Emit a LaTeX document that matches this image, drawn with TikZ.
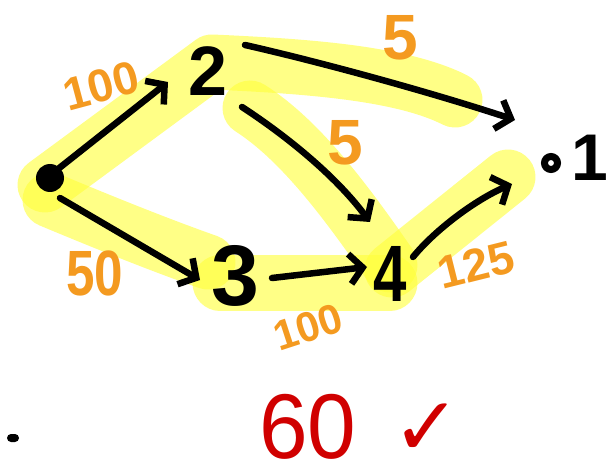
\documentclass[tikz,border=0pt]{standalone}
\usepackage{fontspec}
\setmainfont{Liberation Sans}
\newfontfamily\symfont{DejaVu Sans}
\usetikzlibrary{arrows.meta}
\definecolor{hl}{RGB}{255,255,60}
\definecolor{lbl}{RGB}{244,154,32}
\definecolor{chk}{RGB}{208,0,0}
\tikzset{
 hlband/.style={draw=hl, line width=55pt, line cap=round, line join=round, opacity=0.62},
 edge/.style={line width=6.5pt, line cap=round, line join=round, -{Straight Barb[length=13pt,width=30pt,line width=6.5pt]}},
 vert/.style={font=\bfseries\fontsize{70}{70}\selectfont, inner sep=2pt},
 wlbl/.style={text=lbl, font=\bfseries\fontsize{46}{46}\selectfont, inner sep=0pt},
 wbig/.style={text=lbl, font=\bfseries\fontsize{64}{64}\selectfont, inner sep=0pt},
}
\begin{document}
\begin{tikzpicture}[x=1pt,y=-1pt]
\useasboundingbox (0,0) rectangle (608,473);
% highlights
\draw[hlband] (45,185) -- (212,62) .. controls (300,66) and (400,72) .. (455,100);
\draw[hlband] (250,108) .. controls (300,140) and (345,200) .. (390,265);
\draw[hlband] (50,200) .. controls (110,225) and (160,245) .. (208,262);
\draw[hlband] (220,283) -- (390,283);
\draw[hlband] (392,270) -- (508,177);
% nodes
\node[circle, fill, minimum size=28pt, inner sep=0pt] (s) at (50,178) {};
\node[vert] (n2) at (208,71) {2};
\node[vert, font=\bfseries\fontsize{86}{86}\selectfont] (n3) at (235,276) {3};
\node[vert, font=\bfseries\fontsize{80}{80}\selectfont, xscale=0.75] (n4) at (390,274) {4};
\node[circle, draw, line width=7pt, minimum size=13pt, inner sep=0pt] (d1) at (551,163) {};
\node[vert, inner sep=0pt, font=\bfseries\fontsize{66}{66}\selectfont] (n1) at (590,158) {1};
\coordinate (t1) at (515,120);
% arrows
\draw[edge] ([shift={(8,-9)}]s.center) -- ([shift={(-40,11)}]n2.center);
\draw[edge] ([shift={(10,20)}]s.center) -- ([shift={(-35,4)}]n3.center);
\draw[edge] ([shift={(37,-26)}]n2.center) .. controls (320,62) and (430,92) .. (t1);
\draw[edge] ([shift={(34,36)}]n2.center) .. controls (285,135) and (335,175) .. ([shift={(-20,-52)}]n4.center);
\draw[edge] ([shift={(37,2)}]n3.center) -- ([shift={(-23,-7)}]n4.center);
\draw[edge] ([shift={(23,-17)}]n4.center) .. controls (435,230) and (475,200) .. ([shift={(-39,21)}]d1.center);
% labels
\node[wlbl, rotate=15] (w1) at (101,86) {100};
\node[wbig] (w2) at (400,38) {5};
\node[wbig] (w3) at (345,143) {5};
\node[wbig, xscale=0.8] (w4) at (95,273) {50};
\node[wlbl, font=\bfseries\fontsize{42}{42}\selectfont, rotate=18] (w5) at (308,327) {100};
\node[wlbl, rotate=14] (w6) at (476,265) {125};
% result
\node[text=chk, font=\fontsize{92}{92}\selectfont, inner sep=0pt, xscale=0.95] (r60) at (308,427) {60};
\node[text=chk, font=\symfont\fontsize{82}{82}\selectfont, inner sep=0pt] (ck) at (427,430) {✓};
\node[fill, minimum width=12pt, minimum height=8pt, rounded corners=4pt, inner sep=0pt] (mk) at (13,438) {};
\end{tikzpicture}
\end{document}
